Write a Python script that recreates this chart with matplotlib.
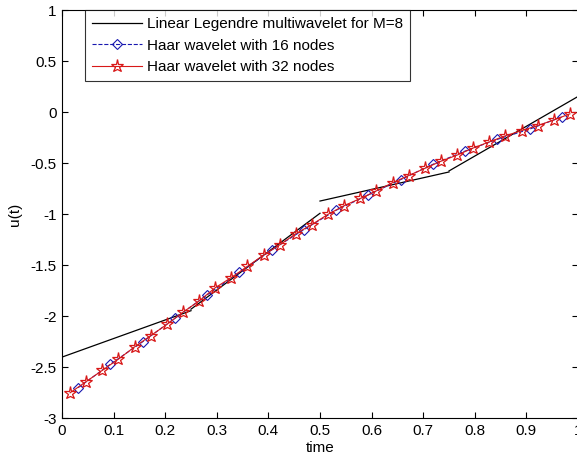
import numpy as np
import matplotlib
matplotlib.use('Agg')
import matplotlib.pyplot as plt

plt.rcParams['font.family'] = ['Liberation Sans', 'DejaVu Sans']

# Linear Legendre multiwavelet (M=8): piecewise linear on 4 subintervals
leg_t = [[0.0, 0.25], [0.25, 0.5], [0.5, 0.75], [0.75, 1.0]]
leg_u = [[-2.40, -1.945], [-1.93, -0.99], [-0.87, -0.585], [-0.575, 0.155]]

# Haar wavelet, 16 collocation nodes
t16 = [(2 * k - 1) / 32 for k in range(1, 17)]
u16 = [-2.70, -2.47, -2.25, -2.02, -1.79, -1.57, -1.35, -1.15,
       -0.96, -0.81, -0.66, -0.51, -0.38, -0.265, -0.165, -0.045]

# Haar wavelet, 32 collocation nodes
t32 = [(2 * k - 1) / 64 for k in range(1, 33)]
u32 = [-2.75, -2.64, -2.53, -2.42, -2.30, -2.19, -2.08, -1.96,
       -1.85, -1.72, -1.62, -1.51, -1.40, -1.30, -1.19, -1.10,
       -1.00, -0.915, -0.845, -0.77, -0.69, -0.62, -0.55, -0.48,
       -0.42, -0.35, -0.29, -0.23, -0.18, -0.13, -0.075, -0.015]

fig = plt.figure(figsize=(5.77, 4.61), dpi=100)
ax = fig.add_axes([62 / 577, (461 - 418.3) / 461, 516 / 577, 408 / 461])

for i, (tt, uu) in enumerate(zip(leg_t, leg_u)):
    ax.plot(tt, uu, 'k-', lw=0.9,
            label='Linear Legendre multiwavelet for M=8' if i == 0 else None)
ax.plot(t16, u16, '--', color='#1818b0', lw=0.8, marker='D', ms=5.5,
        mfc='none', mec='#1818b0', mew=0.8, label='Haar wavelet with 16 nodes')
ax.plot(t32, u32, '-', color='#d81818', lw=0.8, marker='*', ms=9.5,
        mfc='none', mec='#d81818', mew=0.9, label='Haar wavelet with 32 nodes')

ax.set_xlim(0, 1)
ax.set_ylim(-3, 1)
ax.set_xticks(np.arange(0, 1.01, 0.1))
ax.set_xticklabels(['0', '0.1', '0.2', '0.3', '0.4', '0.5', '0.6', '0.7', '0.8', '0.9', '1'])
ax.set_yticks(np.arange(-3, 1.01, 0.5))
ax.set_yticklabels(['-3', '-2.5', '-2', '-1.5', '-1', '-0.5', '0', '0.5', '1'])
ax.tick_params(direction='in', top=True, right=True, length=4, labelsize=11, pad=4)
ax.set_xlabel('time', fontsize=11, labelpad=2)
ax.set_ylabel('u(t)', fontsize=11, labelpad=6)

leg = ax.legend(loc='upper left', bbox_to_anchor=(0.0446, 1.0), fontsize=11,
                frameon=True, fancybox=False, edgecolor='black', borderpad=0.45,
                labelspacing=0.5, handlelength=3.3, handletextpad=0.3,
                borderaxespad=0)
leg.get_frame().set_linewidth(0.8)

fig.savefig('out.png', dpi=100)
